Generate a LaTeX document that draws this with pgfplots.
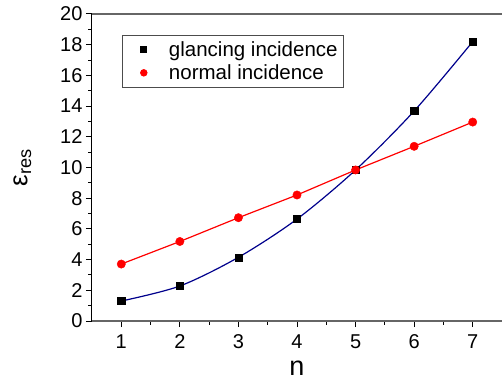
\documentclass[border=0pt]{standalone}
\usepackage{fontspec}
\setmainfont{Liberation Sans}
\usepackage{pgfplots}
\pgfplotsset{compat=1.18}
\definecolor{navyc}{RGB}{0,0,140}
\pgfplotsset{myleg/.style={legend image code/.code={\path (0cm,0cm) (1.4cm,0cm); \draw[##1] plot coordinates {(0.6cm,0cm)};}}}
\begin{document}
\begin{tikzpicture}
\begin{axis}[
  scale only axis,
  width=410pt, height=307pt,
  xmin=0.5, xmax=7.5, ymin=0, ymax=20,
  axis y line*=left,
  x axis line style={line width=1.5pt, draw=black!60},
  y axis line style={line width=1pt, draw=black},
  xtick={1,...,7}, ytick={0,2,...,20},
  minor xtick={1.5,2.5,...,7.5},
  minor ytick={1,3,...,19},
  tick align=outside,
  major tick length=6pt, minor tick length=3.5pt,
  tick style={line width=1pt, black},
  xtick pos=bottom,
  ticklabel style={font=\fontsize{20pt}{20pt}\selectfont},
  xticklabel style={yshift=-4pt},
  /pgf/number format/assume math mode=true,
  xlabel={n}, ylabel={ε\textsubscript{res}},
  xlabel style={font=\fontsize{27pt}{27pt}\selectfont, at={(axis description cs:0.5,0)}, anchor=base, yshift=-54pt},
  ylabel style={font=\fontsize{26pt}{26pt}\selectfont, yshift=22pt},
  legend style={at={(0.073,0.932)}, anchor=north west, draw=black!70, line width=0.8pt,
    font=\fontsize{20.5pt}{20.5pt}\selectfont, row sep=3pt, inner xsep=4pt, inner ysep=4pt},
  legend cell align=left,
]
\addplot[navyc, line width=1.2pt, smooth, forget plot] coordinates {
 (1,1.30) (2,2.28) (3,4.15) (4,6.64) (5,9.84) (6,13.68) (7,18.2)};
\addplot[red, line width=1.2pt, forget plot] coordinates {
 (1,3.71) (2,5.18) (3,6.73) (4,8.21) (5,9.84) (6,11.38) (7,12.96)};
\addplot[only marks, mark=square*, mark size=3.6pt, black, myleg, legend image post style={mark size=3pt}] coordinates {
 (1,1.30) (2,2.28) (3,4.15) (4,6.64) (5,9.84) (6,13.68) (7,18.2)};
\addlegendentry{glancing incidence}
\addplot[only marks, mark=*, mark size=4.2pt, red, myleg, legend image post style={mark size=3.3pt}] coordinates {
 (1,3.71) (2,5.18) (3,6.73) (4,8.21) (5,9.84) (6,11.38) (7,12.96)};
\addlegendentry{normal incidence}
\end{axis}
\pgfresetboundingbox
\useasboundingbox ([xshift=-92pt,yshift=-59pt]current axis.south west) rectangle ([yshift=14pt]current axis.north east);
\end{tikzpicture}
\end{document}
